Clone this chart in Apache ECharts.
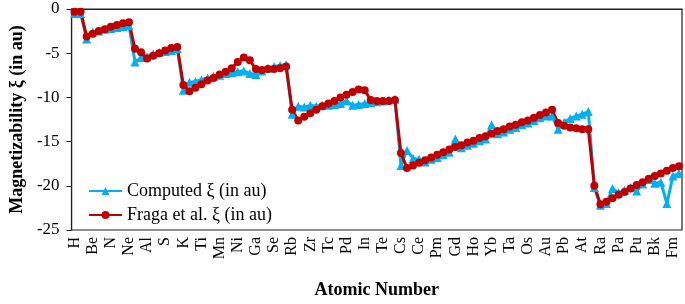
<!DOCTYPE html>
<html>
<head>
<meta charset="utf-8">
<script src="https://cdn.jsdelivr.net/npm/echarts@6/dist/echarts.min.js"></script>
<style>
html,body{margin:0;padding:0;background:#fff;}
#chart{width:685px;height:304px;}
</style>
</head>
<body>
<div id="chart"></div>
<script>
var elements = ["H","He","Li","Be","B","C","N","O","F","Ne","Na","Mg","Al","Si","P","S","Cl","Ar","K","Ca","Sc","Ti","V","Cr","Mn","Fe","Co","Ni","Cu","Zn","Ga","Ge","As","Se","Br","Kr","Rb","Sr","Y","Zr","Nb","Mo","Tc","Ru","Rh","Pd","Ag","Cd","In","Sn","Sb","Te","I","Xe","Cs","Ba","La","Ce","Pr","Nd","Pm","Sm","Eu","Gd","Tb","Dy","Ho","Er","Tm","Yb","Lu","Hf","Ta","W","Re","Os","Ir","Pt","Au","Hg","Tl","Pb","Bi","Po","At","Rn","Fr","Ra","Ac","Th","Pa","U","Np","Pu","Am","Cm","Bk","Cf","Es","Fm","Md"];

var computed = [
 -0.5,-0.5,
 -3.4,-2.6,-2.5,-2.3,-2.2,-2.1,-2.0,-1.9,
 -6.0,-5.5,-5.4,-5.1,-4.9,-4.8,-4.7,-4.5,
 -9.2,-8.3,-8.2,-8.0,-7.8,-7.6,-7.5,-7.3,-7.2,-7.1,-7.0,-7.3,-7.4,-7.0,-6.7,-6.5,-6.4,-6.3,
 -11.9,-11.0,-11.1,-10.9,-11.0,-10.9,-10.9,-10.8,-10.7,-10.4,-10.9,-10.8,-10.7,-10.6,-10.5,-10.4,-10.3,-10.2,
 -17.7,-16.0,-16.9,-17.0,-17.3,-17.0,-16.8,-16.5,-16.2,-14.7,-15.7,-15.4,-15.2,-14.9,-14.7,-13.1,-14.1,-13.9,-13.6,-13.4,-13.1,-12.9,-12.6,-12.3,-12.1,-12.1,-13.6,-12.8,-12.4,-12.1,-11.9,-11.6,
 -20.2,-22.2,-22.0,-20.3,-20.8,-20.5,-20.2,-20.6,-19.8,-19.3,-19.7,-19.6,-22.0,-18.9,-18.6
];

var fraga = [
 -0.3,-0.3,
 -3.1,-2.8,-2.5,-2.3,-2.0,-1.8,-1.6,-1.5,
 -4.5,-4.9,-5.6,-5.3,-5.0,-4.7,-4.4,-4.3,
 -8.6,-9.3,-8.9,-8.5,-8.1,-7.8,-7.4,-7.1,-6.7,-6.0,-5.5,-5.8,-6.8,-6.9,-6.8,-6.8,-6.7,-6.5,
 -11.4,-12.6,-12.2,-11.8,-11.4,-11.0,-10.7,-10.4,-10.0,-9.7,-9.4,-9.1,-9.2,-10.3,-10.4,-10.4,-10.4,-10.3,
 -16.3,-18.0,-17.7,-17.4,-17.1,-16.8,-16.5,-16.2,-15.9,-15.6,-15.4,-15.1,-14.9,-14.6,-14.4,-14.1,-13.8,-13.6,-13.3,-13.1,-12.8,-12.6,-12.3,-12.0,-11.7,-11.4,-12.9,-13.2,-13.4,-13.5,-13.6,-13.6,
 -20.0,-22.1,-21.8,-21.4,-21.0,-20.7,-20.3,-19.9,-19.6,-19.2,-18.9,-18.6,-18.3,-18.0,-17.8
];

var yTicks = {min: -25, max: 0, interval: 5};
var seriesNames = ["Computed \u03BE (in au)", "Fraga et al. \u03BE (in au)"];

var serif = "'Liberation Serif', 'Times New Roman', serif";
var chart = echarts.init(document.getElementById('chart'));
chart.setOption({
  animation: false,
  backgroundColor: '#fff',
  grid: {left: 66, right: 3, top: 9, bottom: 70, show: true, borderColor: '#222', borderWidth: 1.2, containLabel: false},
  legend: {
    orient: 'vertical', left: 83, top: 177, itemWidth: 33, itemHeight: 10, itemGap: 6,
    textStyle: {fontFamily: serif, fontSize: 18, color: '#000'},
    data: seriesNames
  },
  xAxis: {
    type: 'category', data: elements, boundaryGap: true,
    name: 'Atomic Number', nameLocation: 'middle', nameGap: 51,
    nameTextStyle: {fontFamily: serif, fontSize: 18, fontWeight: 'bold', color: '#000'},
    axisLine: {lineStyle: {color: '#222', width: 1.2}},
    axisTick: {show: false},
    axisLabel: {interval: 2, rotate: 90, fontFamily: serif, fontSize: 16, color: '#000', margin: 7, padding: [0, 0, 7, 0]}
  },
  yAxis: {
    type: 'value', min: yTicks.min, max: yTicks.max, interval: yTicks.interval,
    name: 'Magnetizability \u03BE (in au)', nameLocation: 'middle', nameGap: 44, nameRotate: 90,
    nameTextStyle: {fontFamily: serif, fontSize: 18, fontWeight: 'bold', color: '#000'},
    axisLine: {show: true, lineStyle: {color: '#222', width: 1.2}},
    axisTick: {show: true, length: 5, lineStyle: {color: '#222'}},
    splitLine: {show: false},
    axisLabel: {fontFamily: serif, fontSize: 17, color: '#000', margin: 12}
  },
  series: [
    {name: seriesNames[0], type: 'line', data: computed, symbol: 'triangle', symbolSize: 9,
     showSymbol: true, showAllSymbol: true,
     itemStyle: {color: '#00B0F0'}, lineStyle: {color: '#00B0F0', width: 3}},
    {name: seriesNames[1], type: 'line', data: fraga, symbol: 'circle', symbolSize: 8,
     showSymbol: true, showAllSymbol: true,
     itemStyle: {color: '#C00000'}, lineStyle: {color: '#C00000', width: 3}}
  ]
});
</script>
</body>
</html>
